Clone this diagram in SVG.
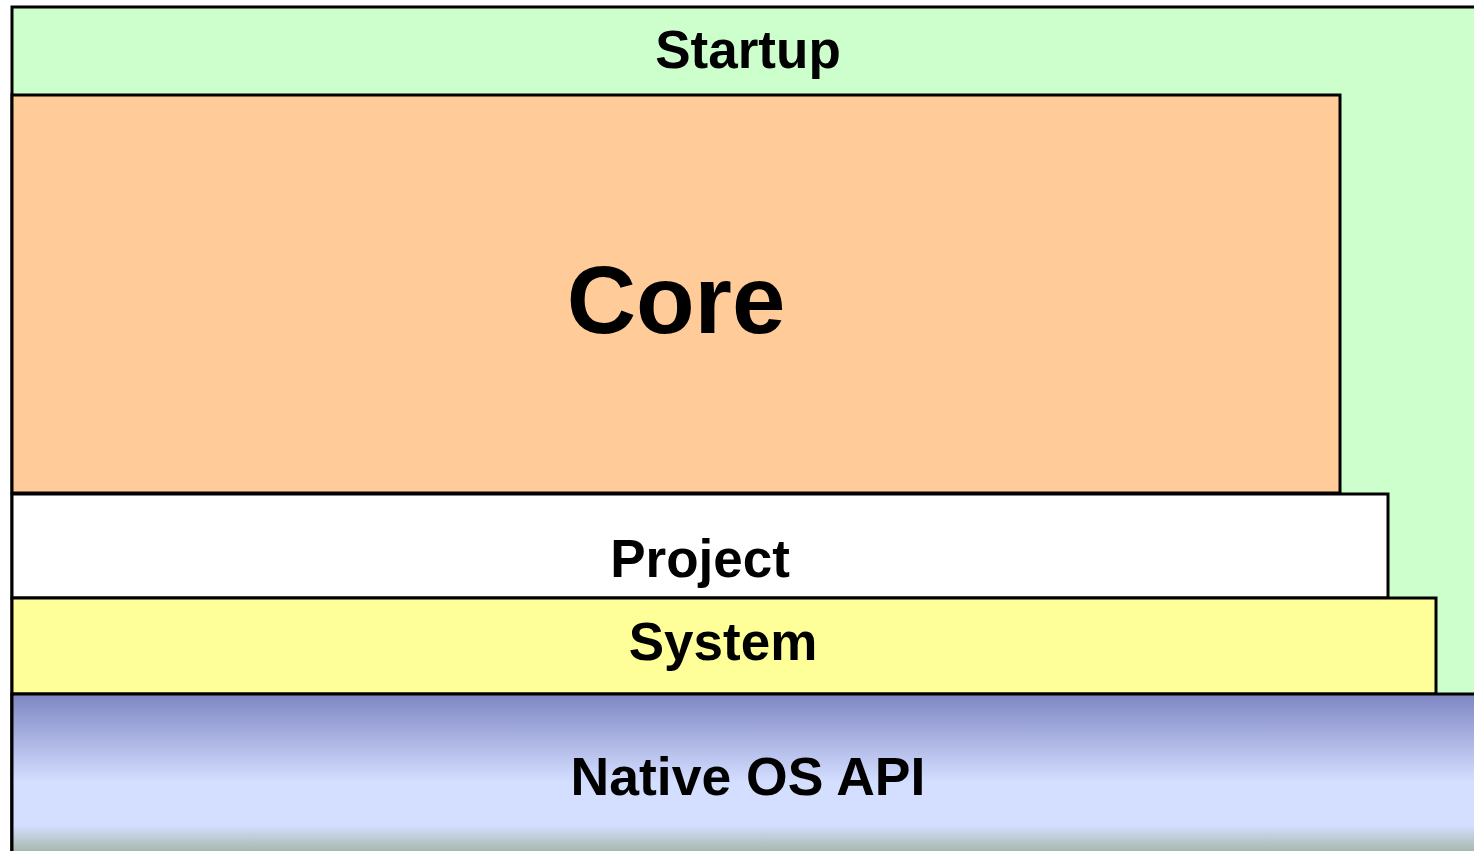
<svg xmlns="http://www.w3.org/2000/svg" width="1474" height="851" viewBox="0 0 1474 851">
<defs>
<linearGradient id="osg" x1="0" y1="0" x2="0" y2="1" gradientUnits="objectBoundingBox">
<stop offset="0" stop-color="#8088C4"/>
<stop offset="0.55" stop-color="#D4DEFF"/>
<stop offset="0.83" stop-color="#D4DEFF"/>
<stop offset="1" stop-color="#A4B8AA"/>
</linearGradient>
<style>
.box{stroke:#000;stroke-width:3}
.lbl{font-family:"Liberation Sans",Arial,sans-serif;font-weight:bold;fill:#000;text-anchor:middle}
</style>
</defs>
<rect width="1474" height="851" fill="#fff"/>
<g id="startup">
<rect class="box" x="12" y="7" width="1474" height="860" fill="#CCFFCC"/>
<text class="lbl" x="748" y="68" font-size="53">Startup</text>
</g>
<g id="core">
<rect class="box" x="12" y="95" width="1328" height="398" fill="#FFCC99"/>
<text class="lbl" x="676" y="333" font-size="96">Core</text>
</g>
<g id="project">
<rect class="box" x="12" y="494" width="1376" height="104" fill="#FFFFFF"/>
<text class="lbl" x="700" y="577" font-size="53">Project</text>
</g>
<g id="system">
<rect class="box" x="12" y="598" width="1424" height="96" fill="#FFFF99"/>
<text class="lbl" x="723" y="660" font-size="53">System</text>
</g>
<g id="native">
<rect class="box" x="12" y="694" width="1480" height="157" fill="url(#osg)"/>
<rect x="12" y="696" width="1480" height="156" fill="url(#osg)"/>
<line x1="12" y1="694" x2="12" y2="851" stroke="#000" stroke-width="3"/>
<text class="lbl" x="748" y="795" font-size="53.5">Native OS API</text>
</g>
<g id="connectors"/>
</svg>
